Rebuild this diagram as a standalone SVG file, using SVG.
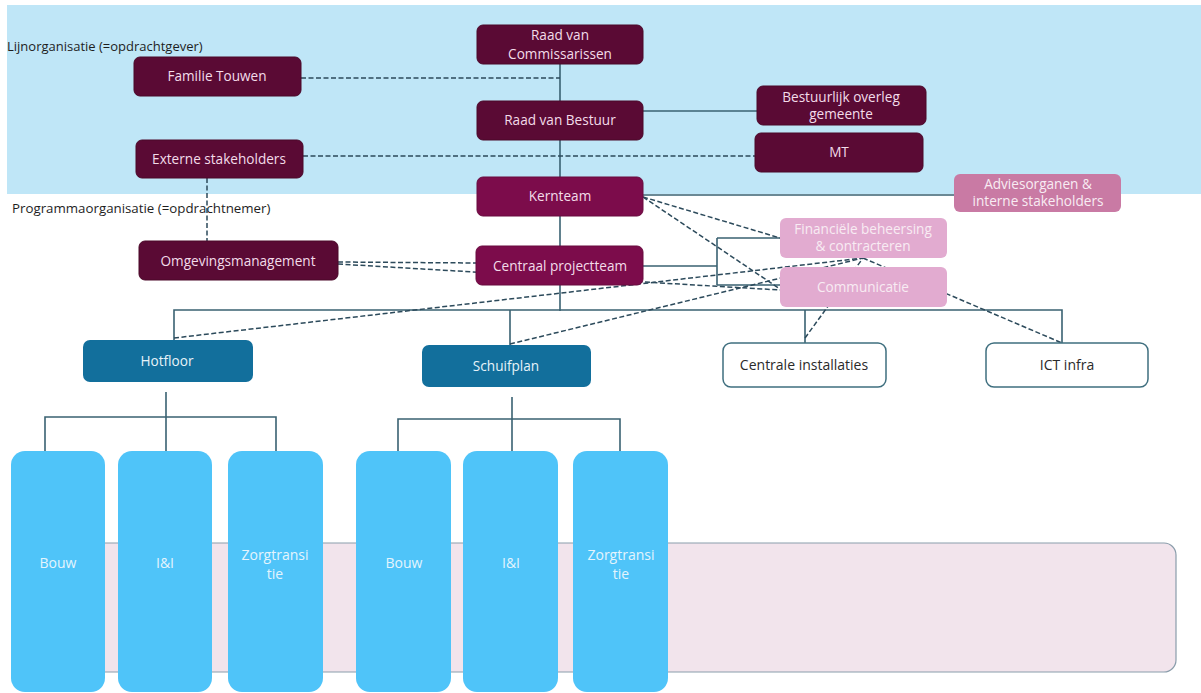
<svg xmlns="http://www.w3.org/2000/svg" width="1201" height="693" viewBox="0 0 1201 693">
<style>
text{font-family:"Open Sans","Noto Sans","Liberation Sans",sans-serif;text-anchor:middle}
.dark{fill:#5a0a34;stroke:#4a0829;stroke-width:1}
.mag{fill:#7c0c4b;stroke:#680a3e;stroke-width:1}
.adv{fill:#c97aa4}
.pink{fill:#e2abd0}
.blue{fill:#126f9c}
.col{fill:#4fc4f9}
.wbox{fill:#fff;stroke:#3f6f7f;stroke-width:1.5}
.t{fill:#f3dce9;font-size:13.6px}
.tw{fill:#f8ecf3;font-size:13.6px}
.tb{fill:#e6f3f9;font-size:13.6px}
.tc{fill:#e4f4fd;font-size:14px}
.td{fill:#2a2a2a;font-size:14px}
.lbl{fill:#1e1e1e;font-size:13px;text-anchor:start}
.s{stroke:#3a6272;stroke-width:1.6;fill:none}
.d{stroke:#2c4a5b;stroke-width:1.5;fill:none;stroke-dasharray:5 2.5}
</style>
<rect x="0" y="0" width="1201" height="693" fill="#ffffff"/>
<rect x="7" y="5" width="1194" height="189" fill="#bfe6f7"/>
<text class="lbl" x="7" y="51">Lijnorganisatie (=opdrachtgever)</text>
<text class="lbl" x="12" y="213" style="font-size:13.3px">Programmaorganisatie (=opdrachtnemer)</text>

<g id="background-band">
<rect x="14" y="543" width="1162" height="129" rx="12" fill="#f2e4ec" stroke="#8a9dab" stroke-width="1.2"/>
</g>

<g id="connectors">
<path class="s" d="M560 64V101M560 140V177M560 216V246M560 285V311"/>
<path class="s" d="M643 111H757"/>
<path class="s" d="M643 195H954"/>
<path class="s" d="M174 340V310H1062V343M510 310V345M805 310V343"/>
<path class="s" d="M643 266H717M717 238V285M717 238H780M717 285H780"/>
<path class="s" d="M166 392V451M45 451V417H276V451"/>
<path class="s" d="M512 397V451M398 451V419H620V451"/>
<path class="d" d="M301 78H560"/>
<path class="d" d="M303 156H755"/>
<path class="d" d="M207 178V241"/>
<path class="d" d="M338 262L476 263"/>
<path class="d" d="M338 264L780 290"/>
<path class="d" d="M643 197L780 238"/>
<path class="d" d="M643 197L780 289"/>
<path class="d" d="M174 338L863 258"/>
<path class="d" d="M510 344L863 258"/>
<path class="d" d="M805 338L863 258"/>
<path class="d" d="M863 258L1062 343"/>
</g>

<g id="raad-van-commissarissen"><rect class="dark" x="477" y="25" width="166" height="39" rx="6"/><text class="t" x="560" y="40">Raad van</text><text class="t" x="560" y="59">Commissarissen</text></g>
<g id="raad-van-bestuur"><rect class="dark" x="477" y="101" width="166" height="39" rx="6"/><text class="t" x="560" y="125">Raad van Bestuur</text></g>
<g id="kernteam"><rect class="mag" x="477" y="177" width="166" height="39" rx="6"/><text class="t" x="560" y="201">Kernteam</text></g>
<g id="centraal-projectteam"><rect class="mag" x="476" y="246" width="167" height="39" rx="6"/><text class="t" x="560" y="271">Centraal projectteam</text></g>
<g id="familie-touwen"><rect class="dark" x="134" y="57" width="167" height="39" rx="6"/><text class="t" x="217" y="81">Familie Touwen</text></g>
<g id="externe-stakeholders"><rect class="dark" x="136" y="140" width="167" height="38" rx="6"/><text class="t" x="219" y="164">Externe stakeholders</text></g>
<g id="omgevingsmanagement"><rect class="dark" x="139" y="241" width="199" height="39" rx="6"/><text class="t" x="238" y="266">Omgevingsmanagement</text></g>
<g id="bestuurlijk-overleg"><rect class="dark" x="757" y="86" width="169" height="39" rx="6"/><text class="t" x="841" y="102">Bestuurlijk overleg</text><text class="t" x="841" y="119">gemeente</text></g>
<g id="mt"><rect class="dark" x="755" y="133" width="168" height="39" rx="6"/><text class="t" x="839" y="157">MT</text></g>
<g id="adviesorganen"><rect class="adv" x="954" y="174" width="167" height="38" rx="6"/><text class="tw" x="1038" y="189">Adviesorganen &amp;</text><text class="tw" x="1038" y="206">interne stakeholders</text></g>
<g id="financiele-beheersing"><rect class="pink" x="780" y="218" width="167" height="40" rx="6"/><text class="tw" x="863" y="234">Financiële beheersing</text><text class="tw" x="863" y="251">&amp; contracteren</text></g>
<g id="communicatie"><rect class="pink" x="780" y="267" width="167" height="40" rx="6"/><text class="tw" x="863" y="292">Communicatie</text></g>
<g id="hotfloor"><rect class="blue" x="83" y="340" width="170" height="42" rx="7"/><text class="tb" x="167" y="366">Hotfloor</text></g>
<g id="schuifplan"><rect class="blue" x="422" y="345" width="169" height="42" rx="7"/><text class="tb" x="506" y="371">Schuifplan</text></g>
<g id="centrale-installaties"><rect class="wbox" x="723" y="343" width="163" height="44" rx="8"/><text class="td" x="804" y="370">Centrale installaties</text></g>
<g id="ict-infra"><rect class="wbox" x="986" y="343" width="162" height="44" rx="8"/><text class="td" x="1067" y="370">ICT infra</text></g>

<g id="bouw-1"><rect class="col" x="11" y="451" width="94" height="241" rx="14"/><text class="tc" x="58" y="568">Bouw</text></g>
<g id="ii-1"><rect class="col" x="118" y="451" width="94" height="241" rx="14"/><text class="tc" x="165" y="568">I&amp;I</text></g>
<g id="zorgtransitie-1"><rect class="col" x="228" y="451" width="95" height="241" rx="14"/><text class="tc" x="275" y="560">Zorgtransi</text><text class="tc" x="275" y="579">tie</text></g>
<g id="bouw-2"><rect class="col" x="356" y="451" width="95" height="241" rx="14"/><text class="tc" x="404" y="568">Bouw</text></g>
<g id="ii-2"><rect class="col" x="463" y="451" width="95" height="241" rx="14"/><text class="tc" x="511" y="568">I&amp;I</text></g>
<g id="zorgtransitie-2"><rect class="col" x="573" y="451" width="95" height="241" rx="14"/><text class="tc" x="621" y="560">Zorgtransi</text><text class="tc" x="621" y="579">tie</text></g>
</svg>
